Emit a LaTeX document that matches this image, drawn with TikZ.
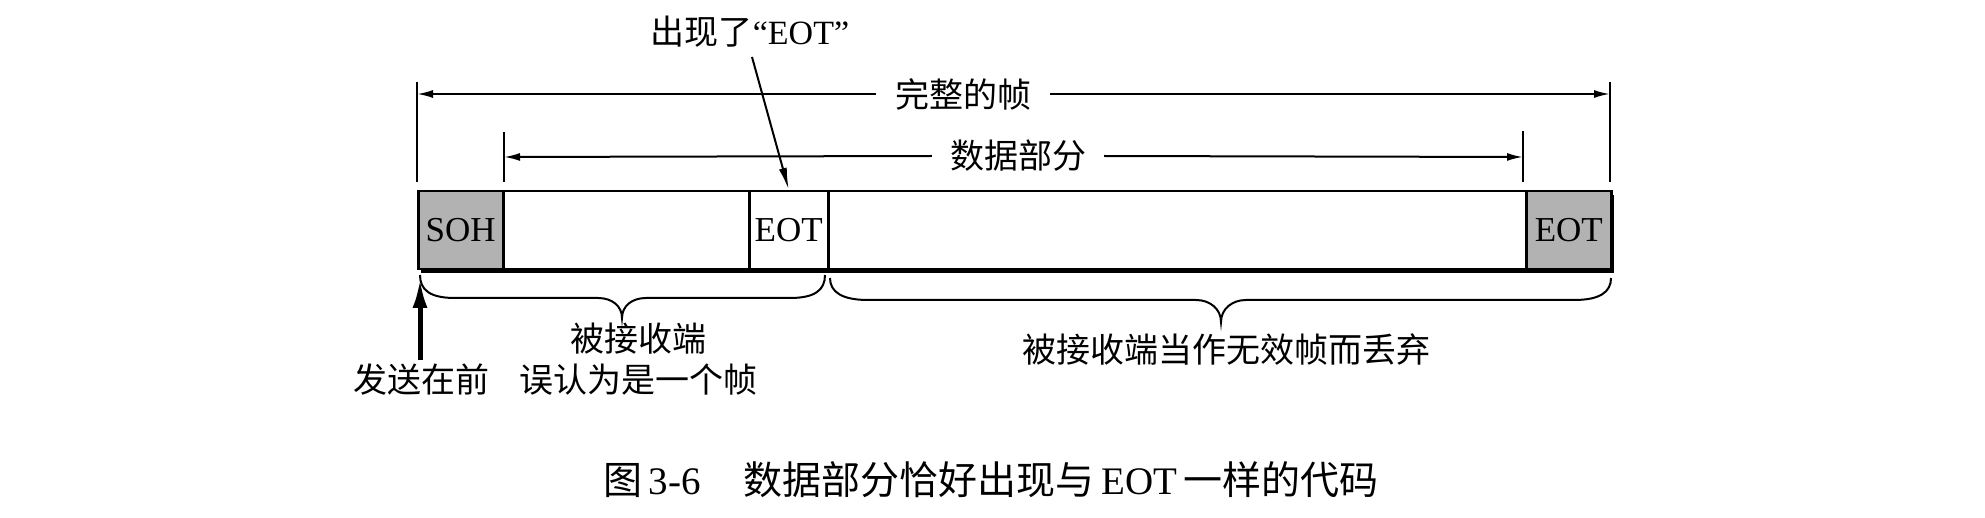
\documentclass[tikz,border=0pt]{standalone}
\usepackage{fontspec}
\setmainfont{Liberation Serif}
\newfontfamily\cjk{Noto Sans CJK SC}
\usetikzlibrary{arrows.meta}
\begin{document}
\begin{tikzpicture}[x=1pt,y=-1pt,
  cell/.style={draw, line width=2.5pt, minimum height=78pt, inner sep=0pt, anchor=west,
    font=\fontsize{35}{40}\selectfont},
  lbl/.style={font=\fontsize{34}{40}\selectfont\cjk, inner sep=0pt},
  dimline/.style={line width=2pt, -{Latex[length=16pt,width=8pt]}},
  tick/.style={line width=2pt},
  bracepath/.style={line width=2pt},
  shade/.style={fill=black!30}]
\useasboundingbox (0,0) rectangle (1985,518);

% shadow of the frame
\fill (421,195) rectangle (1614,273);

% frame cells
\node[cell, shade, minimum width=85pt] (soh) at (417,230) {SOH};
\node[cell, fill=white, minimum width=246pt] (d1) at (502,230) {};
\node[cell, fill=white, minimum width=79pt] (eot1) at (748,230) {EOT};
\node[cell, fill=white, minimum width=698pt] (d2) at (827,230) {};
\node[cell, shade, minimum width=85pt] (eot2) at (1525,230) {EOT};

% tick marks
\coordinate (tlA) at (417,82);  \coordinate (tlB) at (417,182);
\coordinate (trA) at (1610,82); \coordinate (trB) at (1610,182);
\coordinate (dlA) at (504,132); \coordinate (dlB) at (504,182);
\coordinate (drA) at (1523,131);\coordinate (drB) at (1523,182);
\draw[tick] (tlA) -- (tlB);
\draw[tick] (trA) -- (trB);
\draw[tick] (dlA) -- (dlB);
\draw[tick] (drA) -- (drB);

% whole frame dimension
\coordinate (fl) at (417,94);
\coordinate (fr) at (1610,94);
\node[lbl, inner xsep=19pt] (whole) at (963,94) {完整的帧};
\draw[dimline] (whole.west) -- (fl);
\draw[dimline] (whole.east) -- (fr);

% data part dimension
\coordinate (dl) at (504,157);
\coordinate (dr) at (1523,157);
\node[lbl, inner xsep=18pt] (data) at (1018,156) {数据部分};
\draw[dimline] (data.west) -- (dl);
\draw[dimline] (data.east) -- (dr);

% appeared EOT
\node[inner sep=0pt, font=\fontsize{34}{40}\selectfont] (appear) at (750,32) {{\cjk 出现了}“EOT”};
\coordinate (qs) at (752,57);
\draw[line width=2pt, -{Latex[length=22pt,width=8pt]}] (qs) -- (eot1.north);

% sending-first arrow
\coordinate (up0) at (420,360);
\coordinate (uptip) at (420,278);
\draw[line width=5pt, -{Latex[length=30pt,width=15pt]}] (up0) -- (uptip);

% braces
\draw[bracepath] (420,275) .. controls (420,290) and (430,298) .. (455,298) -- (598,298)
  .. controls (612,298) and (622,306) .. (622,318)
  .. controls (622,306) and (632,298) .. (646,298) -- (790,298)
  .. controls (815,298) and (825,290) .. (825,275);
\draw[bracepath] (830,278) .. controls (830,292) and (842,300) .. (868,300) -- (1196,300)
  .. controls (1210,300) and (1221,309) .. (1221,322)
  .. controls (1221,309) and (1232,300) .. (1246,300) -- (1574,300)
  .. controls (1600,300) and (1611,292) .. (1611,278);

% labels below
\node[lbl] (recv1) at (638,339) {被接收端};
\node[lbl] (recv2) at (638,380) {误认为是一个帧};
\node[lbl] (first) at (421,380) {发送在前};
\node[lbl] (discard) at (1226,349) {被接收端当作无效帧而丢弃};

% caption
\node[inner sep=0pt, font=\fontsize{39}{44}\selectfont] (cap) at (991,480)
  {{\cjk 图}\,3-6\hspace{1.1em}{\cjk 数据部分恰好出现与}\,EOT\,{\cjk 一样的代码}};
\end{tikzpicture}
\end{document}
